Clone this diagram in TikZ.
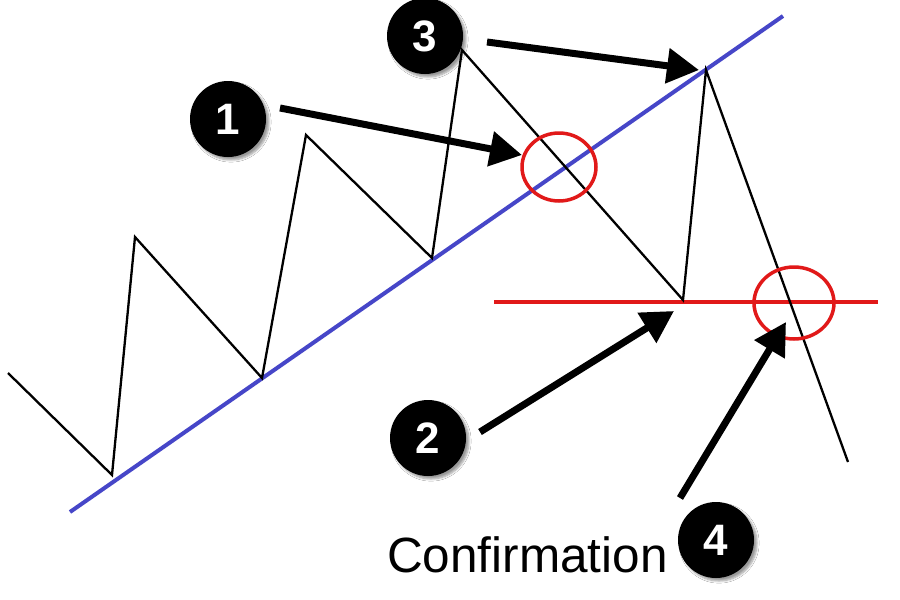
\documentclass[tikz,border=0pt]{standalone}
\usepackage{fontspec}
\setmainfont{Liberation Sans}
\usetikzlibrary{arrows.meta,shadows.blur}
\definecolor{trendblue}{RGB}{70,70,200}
\definecolor{sigred}{RGB}{225,25,25}
\tikzset{
  zig/.style={line width=2.3pt,black,line join=miter},
  trend/.style={line width=4pt,trendblue},
  neck/.style={line width=3.5pt,sigred},
  badge/.style={circle,fill=black,minimum size=76pt,inner sep=0pt,text=white,font=\bfseries\fontsize{44}{44}\selectfont,blur shadow={shadow xshift=3pt,shadow yshift=-3pt,shadow blur steps=6,shadow opacity=40}},
  pointer/.style={line width=7pt,black,-{Triangle[length=32pt,width=34pt]}}
}
\begin{document}
\begin{tikzpicture}[x=1pt,y=-1pt]
\useasboundingbox[fill=white] (0,0) rectangle (900,600);
% trend line
\coordinate (t0) at (70,512);
\coordinate (t1) at (783,16);
\draw[trend] (t0) -- (t1);
% neckline
\coordinate (n0) at (494,302);
\coordinate (n1) at (878,302);
\draw[neck] (n0) -- (n1);
% zigzag
\coordinate (z0) at (8,373);
\coordinate (z1) at (112,475);
\coordinate (z2) at (135,237);
\coordinate (z3) at (262,378);
\coordinate (z4) at (306,135);
\coordinate (z5) at (432,258);
\coordinate (z6) at (462,50);
\coordinate (z7) at (683,300);
\coordinate (z8) at (706,70);
\coordinate (z9) at (848,462);
\draw[zig] (z0) -- (z1) -- (z2) -- (z3) -- (z4) -- (z5) -- (z6) -- (z7) -- (z8) -- (z9);
% red rings
\draw[neck] (559,167) ellipse [x radius=37, y radius=34];
\draw[neck] (794,303) ellipse [x radius=40, y radius=36];
% badges
\node[badge] (b1) at (228,119) {1};
\node[badge] (b3) at (425,36) {3};
\node[badge] (b2) at (428,438) {2};
\node[badge] (b4) at (716,540) {4};
% label
\node[anchor=base west,inner sep=0pt,font=\fontsize{49.5}{49.5}\selectfont] (conf) at (387,572) {Confirmation};
% pointer ends
\coordinate (a1s) at (280,108);
\coordinate (a1e) at (522,155);
\coordinate (a3s) at (487,42);
\coordinate (a3e) at (699,70);
\coordinate (a2s) at (480,432);
\coordinate (a2e) at (674,311);
\coordinate (a4s) at (680,498);
\coordinate (a4e) at (786,322);
\draw[pointer] (a1s) -- (a1e);
\draw[pointer] (a3s) -- (a3e);
\draw[pointer] (a2s) -- (a2e);
\draw[pointer] (a4s) -- (a4e);
\end{tikzpicture}
\end{document}
